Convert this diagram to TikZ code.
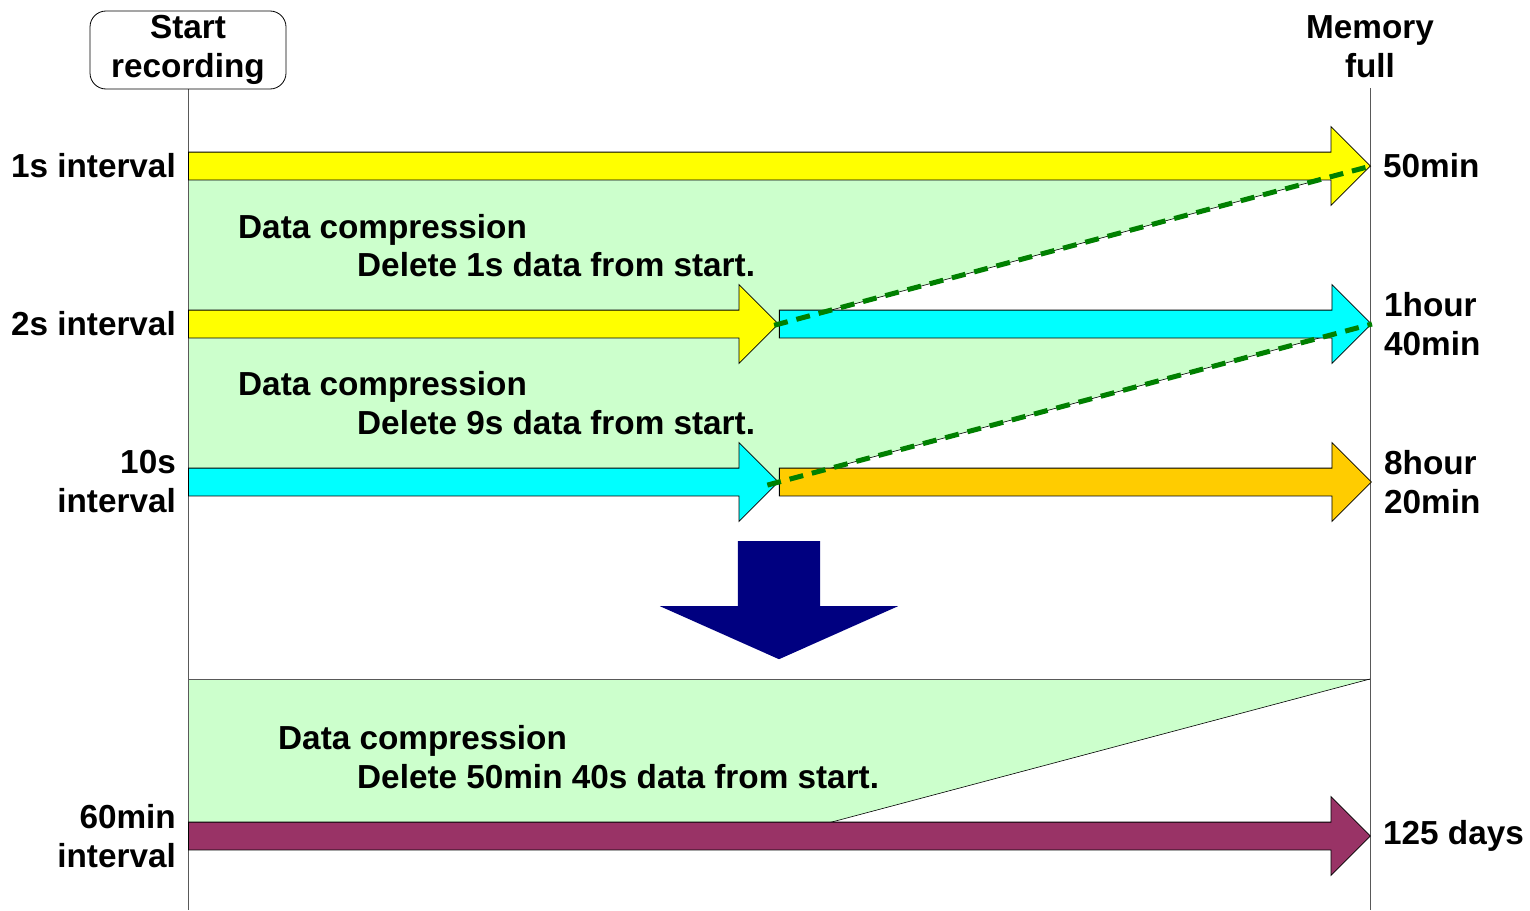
\documentclass[tikz,border=0pt]{standalone}
\usepackage{fontspec}
\setmainfont{Liberation Sans}
\usetikzlibrary{shapes.arrows, positioning, backgrounds}
\definecolor{bandyellow}{HTML}{FFFF00}
\definecolor{bandcyan}{HTML}{00FFFF}
\definecolor{bandorange}{HTML}{FFCC00}
\definecolor{bandplum}{HTML}{993366}
\definecolor{zonegreen}{HTML}{CCFFCC}
\definecolor{markgreen}{HTML}{008000}
\definecolor{mergenavy}{HTML}{000080}

\begin{document}
\begin{tikzpicture}[x=1pt, y=-1pt,
    lbl/.style={font=\fontsize{33.3}{39}\selectfont\bfseries, inner sep=0pt, align=left},
    rlbl/.style={lbl, align=right},
    band/.style={single arrow, draw=black, line width=0.8pt, inner xsep=0pt, inner ysep=13.5pt,
        single arrow head extend=25.5pt, single arrow tip angle=90, anchor=tail},
    zone/.style={fill=zonegreen},
    edge/.style={draw=black, line width=0.6pt},
    axis/.style={draw=gray!70!black, line width=0.8pt},
    marker/.style={draw=markgreen, line width=5pt, dash pattern=on 14pt off 9pt}
]
    \useasboundingbox (0,0) rectangle (1530,910);

    % Start / end of memory
    \node [lbl, align=center, draw, line width=0.8pt, rounded corners=16pt, minimum width=196pt, minimum height=78pt] (start) at (188,50) {Start\\recording};
    \node [lbl, align=center] (full) at (1370,47) {Memory\\full};

    % Interval bands
    \node [band, fill=bandyellow, minimum height=1182pt] (iv1) at (188,166) {};
    \node [band, fill=bandyellow, minimum height=590pt] (iv2) at (188,324) {};
    \node [band, fill=bandcyan, minimum height=592pt] (iv2b) at (iv2.tip) {};
    \node [band, fill=bandcyan, minimum height=590pt] (iv10) at (188,482) {};
    \node [band, fill=bandorange, minimum height=592pt] (iv10b) at (iv10.tip) {};
    \node [band, fill=bandplum, minimum height=1182pt] (iv60) at (188,836) {};

    % Merge arrow
    \node [single arrow, fill=mergenavy, rotate=-90, inner xsep=0pt, inner ysep=41pt,
        single arrow head extend=78pt, single arrow tip angle=132, minimum height=118pt, anchor=tail] (merge) at (779,541) {};

    % Interval labels
    \node [rlbl, left=12pt of iv1.tail] (l1) {1s interval};
    \node [rlbl, left=12pt of iv2.tail] (l2) {2s interval};
    \node [rlbl, left=12pt of iv10.tail] (l10) {10s\\interval};
    \node [rlbl, left=12pt of iv60.tail] (l60) {60min\\interval};

    % Time to memory full
    \node [lbl, right=12pt of iv1.tip] (t1) {50min};
    \node [lbl, right=12pt of iv2b.tip] (t2) {1hour\\40min};
    \node [lbl, right=12pt of iv10b.tip] (t10) {8hour\\20min};
    \node [lbl, right=12pt of iv60.tip] (t60) {125 days};

    % Compression notes
    \node [lbl, anchor=base west] (cmp1) at (238,238) {Data compression};
    \node [lbl, anchor=base west] (del1) at (357,276) {Delete 1s data from start.};
    \node [lbl, anchor=base west] (cmp2) at (238,395) {Data compression};
    \node [lbl, anchor=base west] (del2) at (357,434) {Delete 9s data from start.};
    \node [lbl, anchor=base west] (cmp3) at (278,749) {Data compression};
    \node [lbl, anchor=base west] (del3) at (357,788) {Delete 50min 40s data from start.};

    \begin{scope}[on background layer]
        \coordinate (zoneTL) at (188,679);
        \coordinate (zoneTR) at (1370,679);
        \coordinate (zoneB) at (828,823);
        \coordinate (startEnd) at (188,910);
        \coordinate (fullTop) at (1370,88);
        \coordinate (fullEnd) at (1370,910);
        \fill [zone] (iv1.tail) -- (iv1.tip) -- (iv2.tip) -- (iv2.tail) -- cycle;
        \fill [zone] (iv2.tail) -- (iv2b.tip) -- (iv10.tip) -- (iv10.tail) -- cycle;
        \fill [zone] (zoneTL) -- (zoneTR) -- (zoneB) -- (zoneTL |- zoneB) -- cycle;
        \draw [axis] (start.south) -- (startEnd);
        \draw [axis] (fullTop) -- (fullEnd);
        \draw [axis] (zoneTL) -- (zoneTR);
        \draw [edge] (iv2.tip) -- (iv1.tip);
        \draw [edge] (iv10.tip) -- (iv2b.tip);
        \draw [edge] (zoneTR) -- (zoneB);
    \end{scope}

    % Deleted spans
    \draw [marker, shorten <=-5pt] (iv2.tip) -- (iv1.tip);
    \draw [marker, shorten <=-12pt] (iv10.tip) -- (iv2b.tip);

\end{tikzpicture}
\end{document}
